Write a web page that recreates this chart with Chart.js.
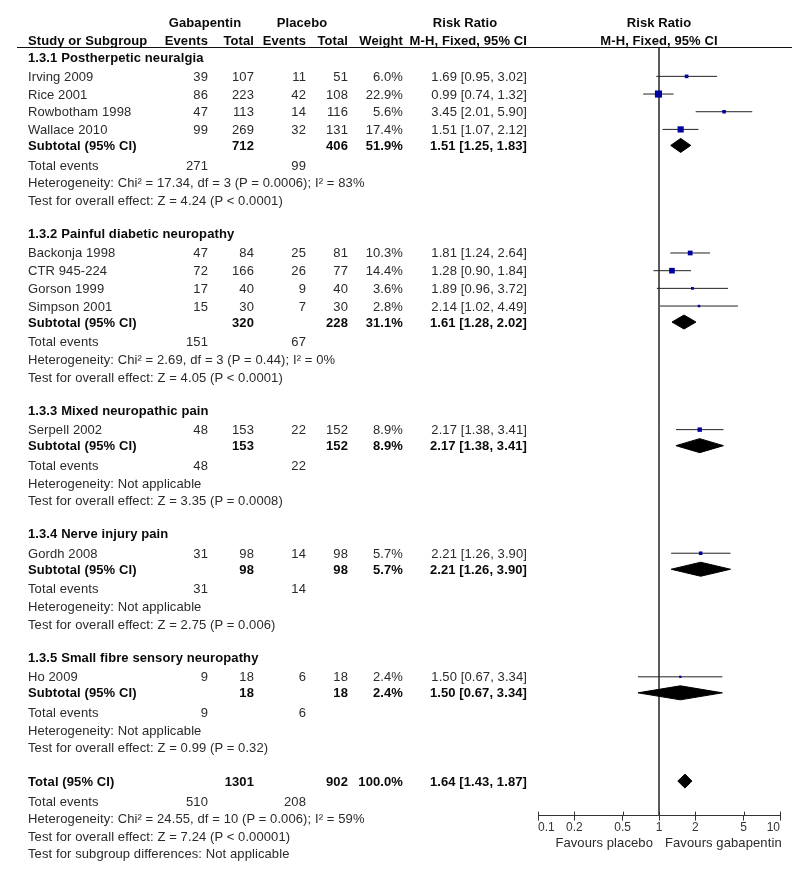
<!DOCTYPE html>
<html>
<head>
<meta charset="utf-8">
<script src="https://cdn.jsdelivr.net/npm/chart.js@4.4.1/dist/chart.umd.min.js"></script>
<style>
  html, body { margin: 0; padding: 0; background: #fff; }
  #wrap { position: relative; width: 800px; height: 871px; overflow: hidden; }
  #plot { position: absolute; left: 0; top: 0; }
  .t { position: absolute; white-space: nowrap; font: 13px "Liberation Sans", Arial, sans-serif; letter-spacing: 0.1px; line-height: 15px; color: #2a2a2a; }
  .b { font-weight: bold; color: #0a0a0a; }
  .r { text-align: right; width: 200px; }
  .c { text-align: center; width: 200px; }
  .rule { position: absolute; height: 0; border-top: 1px solid #111; }
</style>
</head>
<body>
<div id="wrap"><canvas id="plot" width="800" height="871"></canvas></div>
<script>
/* ---- data ---- */
const groupTitles = [
  '1.3.1 Postherpetic neuralgia',
  '1.3.2 Painful diabetic neuropathy',
  '1.3.3 Mixed neuropathic pain',
  '1.3.4 Nerve injury pain',
  '1.3.5 Small fibre sensory neuropathy'
];

const studyNames  = ['Irving 2009', 'Rice 2001', 'Rowbotham 1998', 'Wallace 2010', 'Backonja 1998',
                     'CTR 945-224', 'Gorson 1999', 'Simpson 2001', 'Serpell 2002', 'Gordh 2008', 'Ho 2009'];
const studyGroup  = [0, 0, 0, 0, 1, 1, 1, 1, 2, 3, 4];
const gabEvents   = [39, 86, 47, 99, 47, 72, 17, 15, 48, 31, 9];
const gabTotal    = [107, 223, 113, 269, 84, 166, 40, 30, 153, 98, 18];
const plaEvents   = [11, 42, 14, 32, 25, 26, 9, 7, 22, 14, 6];
const plaTotal    = [51, 108, 116, 131, 81, 77, 40, 30, 152, 98, 18];
const studyWeight = [6.0, 22.9, 5.6, 17.4, 10.3, 14.4, 3.6, 2.8, 8.9, 5.7, 2.4];
const studyRR     = [1.69, 0.99, 3.45, 1.51, 1.81, 1.28, 1.89, 2.14, 2.17, 2.21, 1.50];
const studyLow    = [0.95, 0.74, 2.01, 1.07, 1.24, 0.90, 0.96, 1.02, 1.38, 1.26, 0.67];
const studyHigh   = [3.02, 1.32, 5.90, 2.12, 2.64, 1.84, 3.72, 4.49, 3.41, 3.90, 3.34];

const subGabTotal  = [712, 320, 153, 98, 18];
const subPlaTotal  = [406, 228, 152, 98, 18];
const subWeight    = [51.9, 31.1, 8.9, 5.7, 2.4];
const subRR        = [1.51, 1.61, 2.17, 2.21, 1.50];
const subLow       = [1.25, 1.28, 1.38, 1.26, 0.67];
const subHigh      = [1.83, 2.02, 3.41, 3.90, 3.34];
const subGabEvents = [271, 151, 48, 31, 9];
const subPlaEvents = [99, 67, 22, 14, 6];
const subHet = [
  'Heterogeneity: Chi\u00b2 = 17.34, df = 3 (P = 0.0006); I\u00b2 = 83%',
  'Heterogeneity: Chi\u00b2 = 2.69, df = 3 (P = 0.44); I\u00b2 = 0%',
  'Heterogeneity: Not applicable',
  'Heterogeneity: Not applicable',
  'Heterogeneity: Not applicable'
];
const subEffect = [
  'Test for overall effect: Z = 4.24 (P < 0.0001)',
  'Test for overall effect: Z = 4.05 (P < 0.0001)',
  'Test for overall effect: Z = 3.35 (P = 0.0008)',
  'Test for overall effect: Z = 2.75 (P = 0.006)',
  'Test for overall effect: Z = 0.99 (P = 0.32)'
];

const totalCounts = [1301, 902];        // gabapentin, placebo participants
const totalEvents = [510, 208];
const totalEffect = [1.64, 1.43, 1.87]; // RR, low, high
const totalNotes  = [
  'Heterogeneity: Chi\u00b2 = 24.55, df = 10 (P = 0.006); I\u00b2 = 59%',
  'Test for overall effect: Z = 7.24 (P < 0.00001)',
  'Test for subgroup differences: Not applicable'
];

const tickValues = [0.1, 0.2, 0.5, 1, 2, 5, 10];
const tickLabels = ['0.1', '0.2', '0.5', '1', '2', '5', '10'];

/* ---- row layout (vertical units ~ px) ---- */
const FONT = '"Liberation Sans", Arial, sans-serif';
const rows = [];   // {kind, y, ...}
let y = 57;
groupTitles.forEach((title, g) => {
  rows.push({ kind: 'title', y, g });
  y += 19.3;
  const ids = studyGroup.map((sg, i) => sg === g ? i : -1).filter(i => i >= 0);
  ids.forEach((i, k) => {
    if (k) y += 17.67;
    rows.push({ kind: 'study', y, i });
  });
  y += 16;   rows.push({ kind: 'sub', y, g });
  y += 19.7; rows.push({ kind: 'events', y, g });
  y += 17.7; rows.push({ kind: 'het', y, g });
  y += 17.7; rows.push({ kind: 'effect', y, g });
  y += 33.1;
});
rows.push({ kind: 'total', y });
y += 20;   rows.push({ kind: 'totalEvents', y });
y += 17.7; rows.push({ kind: 'note', y, n: 0 });
y += 17.7; rows.push({ kind: 'note', y, n: 1 });
y += 16.6; rows.push({ kind: 'note', y, n: 2 });

const RULE_Y = 47.5, AXIS_Y = 815, DIAMOND_H = 7;

/* ---- datasets ---- */
const datasets = [];

// line of no effect
datasets.push({
  data: [{ x: 1, y: RULE_Y }, { x: 1, y: AXIS_Y }],
  showLine: true, borderColor: '#444', borderWidth: 1, pointRadius: 0, order: 3
});

// confidence intervals
rows.filter(r => r.kind === 'study').forEach(r => {
  datasets.push({
    data: [{ x: studyLow[r.i], y: r.y }, { x: studyHigh[r.i], y: r.y }],
    showLine: true, borderColor: '#222', borderWidth: 1, pointRadius: 0, order: 2
  });
});

// weighted squares
const studyRows = rows.filter(r => r.kind === 'study');
datasets.push({
  data: studyRows.map(r => ({ x: studyRR[r.i], y: r.y })),
  pointStyle: 'rect',
  pointRadius: studyRows.map(r => 1.05 * Math.sqrt(studyWeight[r.i])),
  backgroundColor: '#0000a0', borderWidth: 0, order: 0
});

// pooled diamonds
function diamond(est, lo, hi, yy) {
  return {
    data: [{ x: lo, y: yy }, { x: est, y: yy - DIAMOND_H }, { x: hi, y: yy },
           { x: est, y: yy + DIAMOND_H }, { x: lo, y: yy }],
    showLine: true, fill: 'shape', backgroundColor: '#000', borderColor: '#000',
    borderWidth: 1, pointRadius: 0, tension: 0, order: 1
  };
}
rows.filter(r => r.kind === 'sub').forEach(r => {
  datasets.push(diamond(subRR[r.g], subLow[r.g], subHigh[r.g], r.y));
});
const totalRow = rows.find(r => r.kind === 'total');
datasets.push(diamond(totalEffect[0], totalEffect[1], totalEffect[2], totalRow.y));

// small upward tick marks on the axis
const upTicks = {
  id: 'upTicks',
  afterDraw(chart) {
    const { ctx, scales: { x }, chartArea } = chart;
    ctx.save();
    ctx.strokeStyle = '#333';
    ctx.lineWidth = 1;
    tickValues.forEach(v => {
      const px = Math.round(x.getPixelForValue(v)) + 0.5;
      ctx.beginPath();
      ctx.moveTo(px, chartArea.bottom - 4);
      ctx.lineTo(px, chartArea.bottom);
      ctx.stroke();
    });
    ctx.restore();
  }
};

const chart = new Chart(document.getElementById('plot'), {
  type: 'scatter',
  data: { datasets },
  options: {
    responsive: false,
    animation: false,
    events: [],
    clip: false,
    layout: { autoPadding: false, padding: { left: 538, right: 20, top: 0, bottom: 36 } },
    plugins: { legend: { display: false }, tooltip: { enabled: false } },
    scales: {
      x: {
        type: 'logarithmic', min: 0.1, max: 10,
        afterBuildTicks: axis => { axis.ticks = tickValues.map(v => ({ value: v })); },
        grid: { display: true, drawOnChartArea: false, drawTicks: true, tickLength: 5, color: '#333' },
        border: { display: true, color: '#333', width: 1 },
        ticks: {
          align: 'inner', padding: 0, autoSkip: false, maxRotation: 0,
          color: '#333', font: { family: FONT, size: 12 },
          callback: (v, i) => tickLabels[i]
        }
      },
      y: { type: 'linear', display: false, min: 0, max: AXIS_Y, reverse: true }
    }
  },
  plugins: [upTicks]
});

/* ---- table text, placed through the y scale ---- */
const wrap = document.getElementById('wrap');
const py = v => chart.scales.y.getPixelForValue(v);
const pxX = v => chart.scales.x.getPixelForValue(v);

function put(text, x, yy, align, bold) {
  const d = document.createElement('div');
  d.className = 't' + (bold ? ' b' : '') + (align === 'right' ? ' r' : align === 'center' ? ' c' : '');
  d.textContent = text;
  d.style.left = (align === 'right' ? x - 200 : align === 'center' ? x - 100 : x) + 'px';
  d.style.top = (py(yy) - 7.5) + 'px';
  wrap.appendChild(d);
}

const col = { label: 28, gEv: 208, gTot: 254, pEv: 306, pTot: 348, wt: 403, rr: 527 };
const fmtRR = (e, l, h) => `${e.toFixed(2)} [${l.toFixed(2)}, ${h.toFixed(2)}]`;
const fmtW = w => w.toFixed(1) + '%';

// header
put('Gabapentin', 205, 22, 'center', true);
put('Placebo', 302, 22, 'center', true);
put('Risk Ratio', 465, 22, 'center', true);
put('Risk Ratio', pxX(1), 22, 'center', true);
put('Study or Subgroup', col.label, 40, 'left', true);
put('Events', col.gEv, 40, 'right', true);
put('Total', col.gTot, 40, 'right', true);
put('Events', col.pEv, 40, 'right', true);
put('Total', col.pTot, 40, 'right', true);
put('Weight', col.wt, 40, 'right', true);
put('M-H, Fixed, 95% CI', col.rr, 40, 'right', true);
put('M-H, Fixed, 95% CI', pxX(1), 40, 'center', true);

const rule = document.createElement('div');
rule.className = 'rule';
rule.style.left = '17px';
rule.style.width = '775px';
rule.style.top = Math.round(py(RULE_Y) - 0.5) + 'px';
wrap.appendChild(rule);

rows.forEach(r => {
  switch (r.kind) {
    case 'title':
      put(groupTitles[r.g], col.label, r.y, 'left', true);
      break;
    case 'study':
      put(studyNames[r.i], col.label, r.y, 'left');
      put(String(gabEvents[r.i]), col.gEv, r.y, 'right');
      put(String(gabTotal[r.i]), col.gTot, r.y, 'right');
      put(String(plaEvents[r.i]), col.pEv, r.y, 'right');
      put(String(plaTotal[r.i]), col.pTot, r.y, 'right');
      put(fmtW(studyWeight[r.i]), col.wt, r.y, 'right');
      put(fmtRR(studyRR[r.i], studyLow[r.i], studyHigh[r.i]), col.rr, r.y, 'right');
      break;
    case 'sub':
      put('Subtotal (95% CI)', col.label, r.y, 'left', true);
      put(String(subGabTotal[r.g]), col.gTot, r.y, 'right', true);
      put(String(subPlaTotal[r.g]), col.pTot, r.y, 'right', true);
      put(fmtW(subWeight[r.g]), col.wt, r.y, 'right', true);
      put(fmtRR(subRR[r.g], subLow[r.g], subHigh[r.g]), col.rr, r.y, 'right', true);
      break;
    case 'events':
      put('Total events', col.label, r.y, 'left');
      put(String(subGabEvents[r.g]), col.gEv, r.y, 'right');
      put(String(subPlaEvents[r.g]), col.pEv, r.y, 'right');
      break;
    case 'het':
      put(subHet[r.g], col.label, r.y, 'left');
      break;
    case 'effect':
      put(subEffect[r.g], col.label, r.y, 'left');
      break;
    case 'total':
      put('Total (95% CI)', col.label, r.y, 'left', true);
      put(String(totalCounts[0]), col.gTot, r.y, 'right', true);
      put(String(totalCounts[1]), col.pTot, r.y, 'right', true);
      put(fmtW(100), col.wt, r.y, 'right', true);
      put(fmtRR(totalEffect[0], totalEffect[1], totalEffect[2]), col.rr, r.y, 'right', true);
      break;
    case 'totalEvents':
      put('Total events', col.label, r.y, 'left');
      put(String(totalEvents[0]), col.gEv, r.y, 'right');
      put(String(totalEvents[1]), col.pEv, r.y, 'right');
      break;
    case 'note':
      put(totalNotes[r.n], col.label, r.y, 'left');
      break;
  }
});

// axis captions either side of the line of no effect
put('Favours placebo', pxX(1) - 6, 842, 'right');
put('Favours gabapentin', pxX(1) + 6, 842, 'left');
</script>
</body>
</html>
